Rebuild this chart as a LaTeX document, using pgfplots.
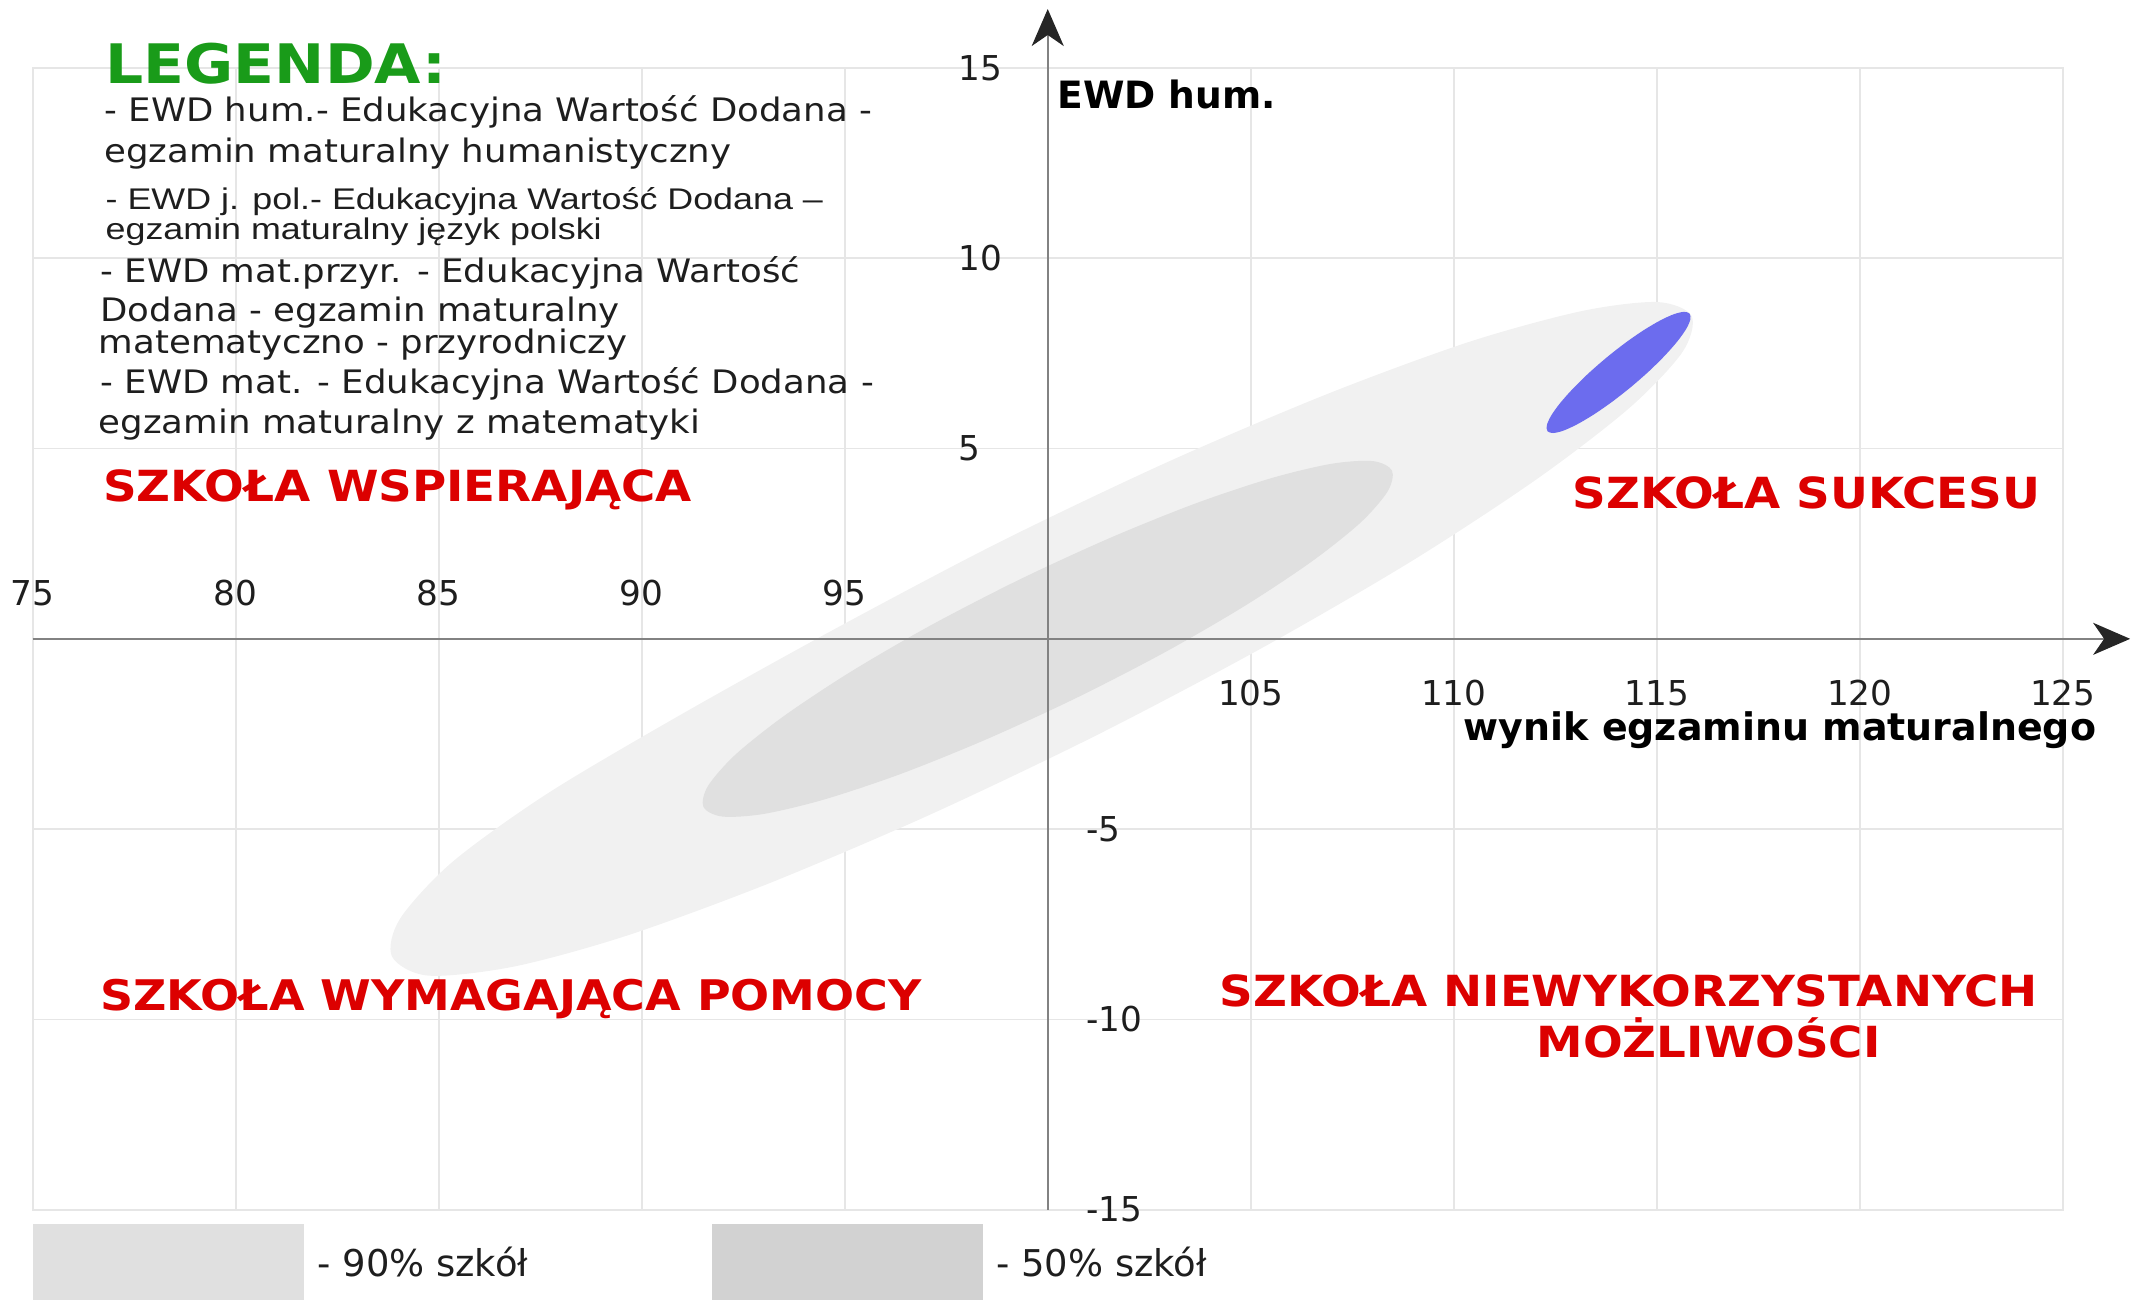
\documentclass[border=0pt]{standalone}
\usepackage{pgfplots}
\pgfplotsset{compat=1.18}
\usepackage{fontspec}
\setmainfont{DejaVu Sans}
\newfontfamily\legfont[FakeStretch=1.1]{DejaVu Sans}
\newfontfamily\arialfont[FakeStretch=1.2]{Liberation Sans}
\newfontfamily\redfont[FakeStretch=1.09]{DejaVu Sans}
\usetikzlibrary{arrows.meta}
\definecolor{legreen}{RGB}{25,155,25}
\definecolor{lered}{RGB}{220,0,0}
\definecolor{ellA}{RGB}{241,241,241}
\definecolor{ellB}{RGB}{224,224,224}
\definecolor{blueell}{RGB}{108,108,238}
\definecolor{swA}{RGB}{224,224,224}
\definecolor{swB}{RGB}{210,210,210}
\definecolor{gridc}{RGB}{230,230,230}
\definecolor{axc}{RGB}{130,130,130}
\definecolor{txt}{RGB}{30,30,30}
\begin{document}
\begin{tikzpicture}
\begin{axis}[
  at={(0,0)}, anchor=south west,
  scale only axis, width=203mm, height=114.17mm,
  xmin=75, xmax=125, ymin=-15, ymax=15,
  xtick={75,80,...,125}, ytick={-15,-10,...,15},
  xticklabels={}, yticklabels={},
  major tick length=0pt,
  grid=major, grid style={gridc, line width=0.5pt},
  axis line style={gridc, line width=0.5pt},
  clip=false,
]
% 90% ellipse
\addplot[fill=ellA, draw=none, smooth cycle] coordinates {
(115.86,8.48) (115.01,8.85) (113.14,8.61) (110.37,7.80) (106.90,6.44) (102.96,4.65)
(98.81,2.54) (94.74,0.25) (90.95,-2.00) (87.70,-4.05) (85.35,-5.85) (84.05,-7.35)
(83.85,-8.35) (84.75,-8.85) (86.86,-8.61) (89.63,-7.80) (93.10,-6.44) (97.04,-4.65)
(101.19,-2.54) (105.26,-0.25) (108.96,2.04) (112.05,4.20) (114.33,6.07) (115.63,7.53)
};
% 50% ellipse
\addplot[fill=ellB, draw=none, smooth cycle] coordinates {
(108.48,4.42) (108.01,4.67) (106.99,4.60) (105.50,4.22) (103.62,3.55) (101.51,2.64)
(99.29,1.55) (97.11,0.35) (95.14,-0.87) (93.50,-2.03) (92.30,-3.05) (91.63,-3.87)
(91.52,-4.42) (91.99,-4.67) (93.01,-4.60) (94.50,-4.22) (96.38,-3.55) (98.49,-2.64)
(100.71,-1.55) (102.89,-0.35) (104.86,0.87) (106.50,2.03) (107.70,3.05) (108.37,3.87)
};
% school
\addplot[fill=blueell, draw=none, smooth cycle] coordinates {
(115.81,8.545) (115.672,8.592) (115.426,8.532) (115.085,8.366) (114.675,8.108) (114.223,7.774)
(113.76,7.387) (113.317,6.974) (112.925,6.562) (112.611,6.182) (112.394,5.856) (112.292,5.608)
(112.31,5.455) (112.448,5.408) (112.694,5.468) (113.035,5.634) (113.445,5.892) (113.897,6.226)
(114.36,6.613) (114.803,7.026) (115.195,7.438) (115.509,7.818) (115.726,8.144) (115.828,8.392)
};
% main axes
\draw[axc, line width=0.6pt, -{Stealth[length=3.7mm,width=3.2mm,inset=1.1mm,color=black!85]}] (axis cs:75,0) -- (axis cs:126.66,0);
\draw[axc, line width=0.6pt, -{Stealth[length=3.7mm,width=3.2mm,inset=1.1mm,color=black!85]}] (axis cs:100,-15) -- (axis cs:100,16.55);
\pgfplotsinvokeforeach{75,80,85,90,95,105,110,115,120,125}{
  \draw[axc, line width=0.5pt] (axis cs:#1,0) ++(0,-1.9mm) -- ++(0,3.8mm);
}
\pgfplotsinvokeforeach{-15,-10,-5,5,10,15}{
  \draw[axc, line width=0.5pt] (axis cs:100,#1) ++(-2.1mm,0) -- ++(4.2mm,0);
}
% tick labels
\pgfplotsinvokeforeach{75,80,85,90,95}{
  \node[anchor=base, inner sep=0, txt, font=\fontsize{9.75}{11}\selectfont] at (axis cs:#1,0.875) {#1};
}
\pgfplotsinvokeforeach{105,110,115,120,125}{
  \node[anchor=base, inner sep=0, txt, font=\fontsize{9.75}{11}\selectfont] at (axis cs:#1,-1.75) {#1};
}
\pgfplotsinvokeforeach{5,10,15}{
  \node[anchor=west, inner sep=0, txt, font=\fontsize{9.75}{11}\selectfont] at (axis cs:97.78,#1) {#1};
}
\pgfplotsinvokeforeach{-5,-10,-15}{
  \node[anchor=west, inner sep=0, txt, font=\fontsize{9.75}{11}\selectfont] at (axis cs:100.93,#1) {#1};
}
% axis titles
\node[anchor=base west, inner sep=0, black, font=\fontsize{10.7}{12}\selectfont\bfseries] at (axis cs:100.22,13.94) {EWD hum.};
\node[anchor=base east, inner sep=0, black, font=\fontsize{10.8}{12}\selectfont\bfseries] at (axis cs:125.84,-2.67) {wynik egzaminu maturalnego};
% legend block
\node[anchor=base west, inner sep=0, legreen, font=\legfont\fontsize{15.5}{17}\selectfont\bfseries] at (axis cs:76.78,14.58) {LEGENDA:};
\node[anchor=base west, inner sep=0, txt, font=\legfont\fontsize{9.2}{11}\selectfont] at (axis cs:76.75,13.59) {- EWD hum.- Edukacyjna Wartość Dodana -};
\node[anchor=base west, inner sep=0, txt, font=\legfont\fontsize{9.2}{11}\selectfont] at (axis cs:76.75,12.52) {egzamin maturalny humanistyczny};
\node[anchor=base west, inner sep=0, txt, font=\arialfont\fontsize{8.5}{10}\selectfont] at (axis cs:76.78,11.28) {- EWD j. pol.- Edukacyjna Wartość Dodana –};
\node[anchor=base west, inner sep=0, txt, font=\arialfont\fontsize{8.5}{10}\selectfont] at (axis cs:76.78,10.49) {egzamin maturalny język polski};
\node[anchor=base west, inner sep=0, txt, font=\legfont\fontsize{9.2}{11}\selectfont] at (axis cs:76.65,9.37) {- EWD mat.przyr. - Edukacyjna Wartość};
\node[anchor=base west, inner sep=0, txt, font=\legfont\fontsize{9.2}{11}\selectfont] at (axis cs:76.65,8.34) {Dodana - egzamin maturalny};
\node[anchor=base west, inner sep=0, txt, font=\legfont\fontsize{9.2}{11}\selectfont] at (axis cs:76.61,7.49) {matematyczno - przyrodniczy};
\node[anchor=base west, inner sep=0, txt, font=\legfont\fontsize{9.2}{11}\selectfont] at (axis cs:76.65,6.44) {- EWD mat. - Edukacyjna Wartość Dodana -};
\node[anchor=base west, inner sep=0, txt, font=\legfont\fontsize{9.2}{11}\selectfont] at (axis cs:76.61,5.39) {egzamin maturalny z matematyki};
% quadrant labels
\node[anchor=base west, inner sep=0, lered, font=\redfont\fontsize{12.2}{14}\selectfont\bfseries] at (axis cs:76.72,3.60) {SZKOŁA WSPIERAJĄCA};
\node[anchor=base west, inner sep=0, lered, font=\redfont\fontsize{12.2}{14}\selectfont\bfseries] at (axis cs:112.91,3.42) {SZKOŁA SUKCESU};
\node[anchor=base west, inner sep=0, lered, font=\redfont\fontsize{12.0}{14}\selectfont\bfseries] at (axis cs:76.65,-9.76) {SZKOŁA WYMAGAJĄCA POMOCY};
\node[anchor=base, inner sep=0, lered, font=\redfont\fontsize{12.2}{14}\selectfont\bfseries] at (axis cs:114.31,-9.65) {SZKOŁA NIEWYKORZYSTANYCH};
\node[anchor=base, inner sep=0, lered, font=\redfont\fontsize{12.2}{14}\selectfont\bfseries] at (axis cs:116.28,-11.01) {MOŻLIWOŚCI};
% bottom legend
\fill[swA] (axis cs:75,-15.37) rectangle (axis cs:81.67,-17.4);
\fill[swB] (axis cs:91.73,-15.37) rectangle (axis cs:98.40,-17.4);
\node[anchor=base west, inner sep=0, txt, font=\fontsize{10.5}{12}\selectfont] at (axis cs:82.00,-16.76) {- 90\% szkół};
\node[anchor=base west, inner sep=0, txt, font=\fontsize{10.5}{12}\selectfont] at (axis cs:98.72,-16.76) {- 50\% szkół};
\end{axis}
\pgfresetboundingbox
\path[use as bounding box] (-3.28mm,-9.03mm) rectangle (211.02mm,120.97mm);
\end{tikzpicture}
\end{document}
